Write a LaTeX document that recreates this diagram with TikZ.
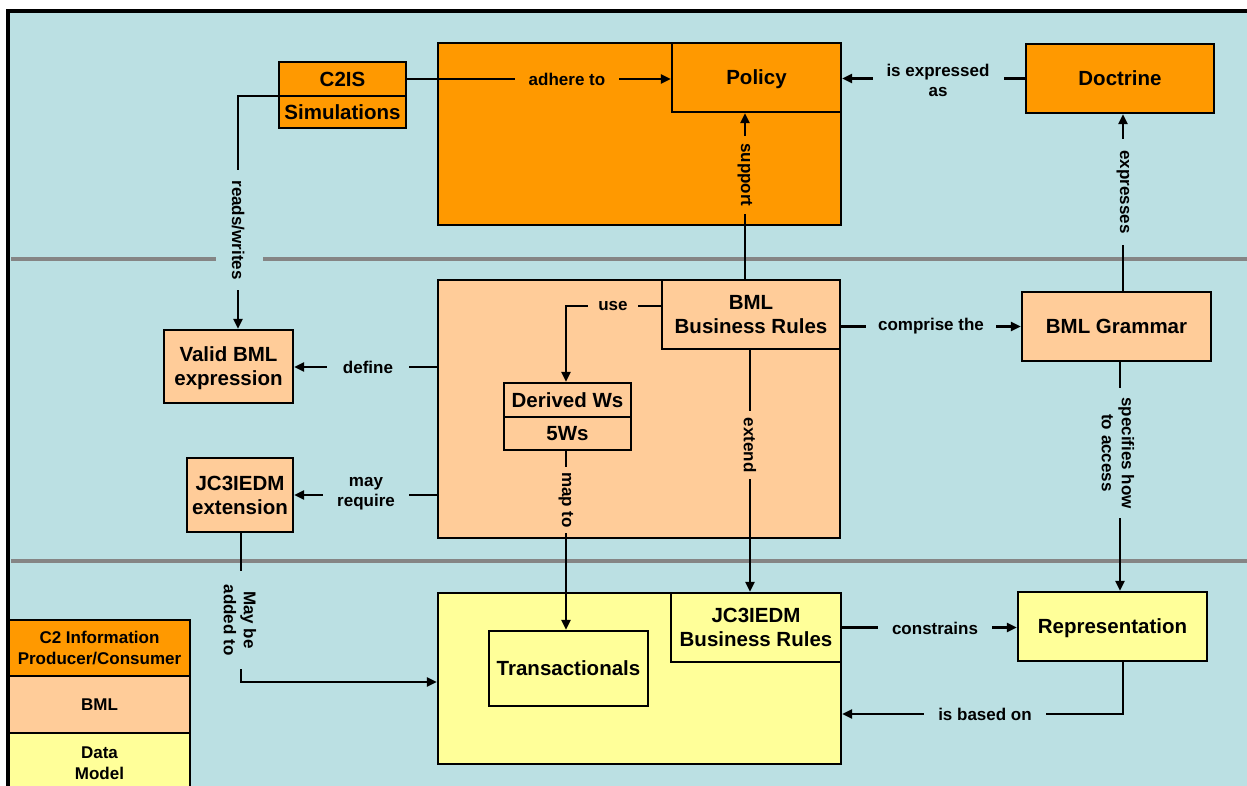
\documentclass[tikz,border=0pt]{standalone}
\usepackage{fontspec}
\setmainfont{Liberation Sans}
\usetikzlibrary{arrows.meta}
\definecolor{bgblue}{HTML}{BBE0E3}
\definecolor{orng}{HTML}{FF9900}
\definecolor{peach}{HTML}{FFCC99}
\definecolor{ylw}{HTML}{FFFF99}
\definecolor{sepgray}{HTML}{858585}
\begin{document}
\begin{tikzpicture}[x=1pt,y=-1pt,
  box/.style={draw=black,line width=2.3pt,inner sep=0pt,align=center,text depth=0pt,font=\fontsize{20.5}{24}\selectfont\bfseries},
  obox/.style={box,fill=orng},
  pbox/.style={box,fill=peach},
  ybox/.style={box,fill=ylw},
  conn/.style={line width=2.4pt,draw=black},
  arr/.style={conn,-{Triangle[length=10pt,width=9pt]}},
  lbl/.style={inner xsep=14pt,inner ysep=1pt,align=center,font=\fontsize{17}{20}\selectfont\bfseries},
  vlbl/.style={lbl,rotate=-90,inner xsep=7pt},
  lgd/.style={draw=black,line width=2.3pt,inner sep=0pt,align=center,font=\fontsize{17}{21}\selectfont\bfseries,minimum width=181pt},
  sep/.style={draw=sepgray,line width=4pt}
]
\useasboundingbox (0,0) rectangle (1247,786);
\clip (0,0) rectangle (1247,786);
\draw[line width=3.5pt,fill=bgblue] (8,11) rectangle (1300,900);

% separators
\draw[sep] (11,259) -- (216,259);
\draw[sep] (263,259) -- (1247,259);
\draw[sep] (11,561) -- (1247,561);

% top layer
\node[obox,minimum width=403pt,minimum height=182pt] (orangeBig) at (639.5,134) {};
\node[obox,minimum width=169pt,minimum height=69pt] (policy) at (756.5,77.5) {Policy};
\node[obox,minimum width=127pt,minimum height=34pt] (c2is) at (342.5,79) {C2IS};
\node[obox,minimum width=127pt,minimum height=32pt] (sim) at (342.5,112) {Simulations};
\node[obox,minimum width=188pt,minimum height=69pt] (doctrine) at (1120,78.5) {Doctrine};

% middle layer
\node[pbox,minimum width=402pt,minimum height=258pt] (peachBig) at (639,409) {};
\node[pbox,minimum width=178pt,minimum height=69pt] (bmlbr) at (751,314.5) {BML\\Business Rules};
\node[pbox,minimum width=127pt,minimum height=34pt] (derived) at (567.5,400) {Derived Ws};
\node[pbox,minimum width=127pt,minimum height=33pt] (fivew) at (567.5,433.5) {5Ws};
\node[pbox,minimum width=129pt,minimum height=73pt] (valid) at (228.5,366.5) {Valid BML\\expression};
\node[pbox,minimum width=106pt,minimum height=74pt] (jcext) at (240,495) {JC3IEDM\\extension};
\node[pbox,minimum width=189pt,minimum height=69pt] (grammar) at (1116.5,326.5) {BML Grammar};

% bottom layer
\node[ybox,minimum width=403pt,minimum height=171pt] (yellowBig) at (639.5,678.5) {};
\node[ybox,minimum width=170pt,minimum height=69pt] (jcbr) at (756,627.5) {JC3IEDM\\Business Rules};
\node[ybox,minimum width=159pt,minimum height=75pt] (trans) at (568.5,668.5) {Transactionals};
\node[ybox,minimum width=189pt,minimum height=69pt] (repr) at (1112.5,626.5) {Representation};

% legend
\node[lgd,fill=orng,minimum height=56pt] (lg1) at (99.5,648) {C2 Information\\Producer/Consumer};
\node[lgd,fill=peach,minimum height=57pt] (lg2) at (99.5,704.5) {BML};
\node[lgd,fill=ylw,minimum height=60pt] (lg3) at (99.5,763) {Data\\Model};

% bend coordinates
\coordinate (supX) at (745,0);
\coordinate (expX) at (1123,0);
\coordinate (specX) at (1120,0);
\coordinate (basedBend) at (1123,714);
\coordinate (extX) at (750,0);
\coordinate (useBend) at (566,306);
\coordinate (mapX) at (566,0);
\coordinate (defY) at (0,367);
\coordinate (rwBend) at (238,96);
\coordinate (maBend) at (241,682);

% connectors
\draw[arr] (c2is.east) -- (c2is.east -| policy.west);
\draw[arr] (doctrine.west) -- (doctrine.west -| policy.east);
\draw[arr] (bmlbr.north -| supX) -- (policy.south -| supX);
\draw[arr] (grammar.north -| expX) -- (doctrine.south -| expX);
\draw[arr] (grammar.west -| bmlbr.east) -- (grammar.west);
\draw[arr] (grammar.south -| specX) -- (repr.north -| specX);
\draw[arr] (jcbr.east) -- (jcbr.east -| repr.west);
\draw[arr] (repr.south -| basedBend) -- (basedBend) -- (basedBend -| yellowBig.east);
\draw[arr] (bmlbr.south -| extX) -- (jcbr.north -| extX);
\draw[arr] (useBend -| bmlbr.west) -- (useBend) -- (useBend |- derived.north);
\draw[arr] (fivew.south -| mapX) -- (trans.north -| mapX);
\draw[arr] (defY -| peachBig.west) -- (defY -| valid.east);
\draw[arr] (jcext.east -| peachBig.west) -- (jcext.east);
\draw[arr] (rwBend -| sim.west) -- (rwBend) -- (rwBend |- valid.north);
\draw[arr] (jcext.south -| maBend) -- (maBend) -- (maBend -| yellowBig.west);

% labels
\node[lbl,fill=orng] (lAdhere) at (567,79) {adhere to};
\node[lbl,fill=bgblue] (lIsExp) at (938,80) {is expressed\\as};
\node[vlbl,fill=orng] (lSupport) at (745,175) {support};
\node[vlbl,fill=bgblue,inner xsep=11pt] (lExpresses) at (1123,192) {expresses};
\node[lbl,fill=bgblue,inner xsep=12pt] (lComprise) at (931,326) {comprise the};
\node[vlbl,fill=bgblue,inner xsep=9pt] (lSpec) at (1118,453) {specifies how\\to access};
\node[lbl,fill=bgblue] (lConstr) at (935,628) {constrains};
\node[lbl,fill=bgblue] (lBased) at (985,714) {is based on};
\node[vlbl,fill=peach] (lExtend) at (750,445) {extend};
\node[lbl,fill=peach,inner xsep=10pt] (lUse) at (613,306) {use};
\node[vlbl,fill=peach,inner xsep=5pt] (lMap) at (566,500) {map to};
\node[lbl,fill=bgblue,inner xsep=16pt] (lDefine) at (368,367) {define};
\node[lbl,fill=bgblue] (lMayReq) at (366,494) {may\\require};
\node[vlbl,fill=bgblue,inner xsep=10pt] (lRW) at (238,230) {reads/writes};
\node[vlbl,fill=bgblue,inner xsep=14pt] (lMayAdd) at (240,620) {May be\\added to};
\end{tikzpicture}
\end{document}
